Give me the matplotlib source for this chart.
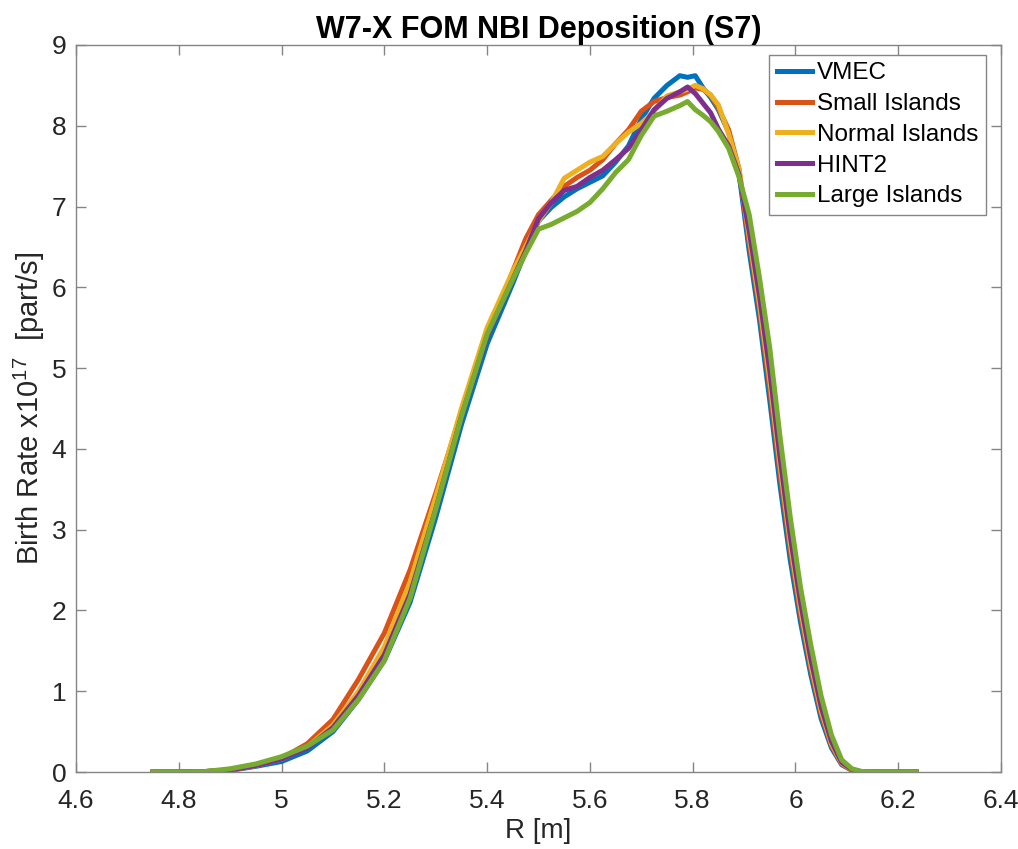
import matplotlib
matplotlib.use("Agg")
import matplotlib.pyplot as plt

plt.rcParams['font.family'] = ['Liberation Sans', 'DejaVu Sans']
plt.rcParams['mathtext.fontset'] = 'custom'
plt.rcParams['mathtext.rm'] = 'Liberation Sans'
plt.rcParams['mathtext.it'] = 'Liberation Sans:italic'

# ---- data ----
R = [4.75, 4.80, 4.85, 4.90, 4.95, 5.00, 5.05, 5.10, 5.15, 5.20, 5.25, 5.30, 5.35, 5.40, 5.45,
     5.475, 5.50, 5.525, 5.55, 5.575, 5.60, 5.625, 5.65, 5.675, 5.70, 5.725, 5.75, 5.775, 5.79,
     5.805, 5.82, 5.835, 5.85, 5.87, 5.89, 5.91, 5.93, 5.95, 5.97, 5.99, 6.01, 6.03, 6.05, 6.07,
     6.09, 6.11, 6.13, 6.16, 6.20, 6.235]

vmec = [0, 0, 0.005, 0.02, 0.07, 0.13, 0.26, 0.50, 0.90, 1.38, 2.10, 3.15, 4.30, 5.30, 6.05,
        6.45, 6.82, 6.99, 7.12, 7.22, 7.30, 7.38, 7.55, 7.75, 8.08, 8.34, 8.50, 8.62, 8.60,
        8.62, 8.47, 8.35, 8.20, 7.92, 7.42, 6.45, 5.60, 4.60, 3.55, 2.62, 1.85, 1.20, 0.66, 0.30,
        0.09, 0.02, 0, 0, 0, 0]

small = [0, 0, 0.005, 0.025, 0.08, 0.17, 0.35, 0.65, 1.15, 1.72, 2.50, 3.45, 4.45, 5.40, 6.20,
         6.60, 6.90, 7.08, 7.25, 7.36, 7.45, 7.58, 7.78, 7.95, 8.18, 8.30, 8.35, 8.38, 8.42,
         8.47, 8.45, 8.38, 8.22, 7.95, 7.47, 6.56, 5.73, 4.75, 3.70, 2.75, 1.95, 1.28, 0.72, 0.33,
         0.10, 0.02, 0, 0, 0, 0]

normal = [0, 0, 0.005, 0.025, 0.08, 0.16, 0.31, 0.58, 1.00, 1.55, 2.35, 3.40, 4.50, 5.50, 6.20,
          6.50, 6.82, 7.05, 7.35, 7.45, 7.55, 7.62, 7.78, 7.92, 8.03, 8.18, 8.37, 8.42, 8.45,
          8.50, 8.46, 8.38, 8.26, 7.90, 7.47, 6.63, 5.80, 4.86, 3.80, 2.83, 2.02, 1.33, 0.76, 0.35,
          0.11, 0.025, 0, 0, 0, 0]

hint2 = [0, 0, 0.005, 0.025, 0.08, 0.16, 0.30, 0.55, 0.95, 1.45, 2.20, 3.25, 4.40, 5.40, 6.10,
         6.45, 6.85, 7.05, 7.20, 7.25, 7.36, 7.45, 7.58, 7.72, 7.95, 8.20, 8.34, 8.42, 8.48,
         8.40, 8.28, 8.16, 7.96, 7.75, 7.40, 6.70, 5.90, 4.97, 3.90, 2.92, 2.10, 1.40, 0.81, 0.38,
         0.12, 0.03, 0, 0, 0, 0]

large = [0, 0, 0.005, 0.04, 0.10, 0.19, 0.32, 0.52, 0.90, 1.38, 2.15, 3.25, 4.40, 5.42, 6.10,
         6.42, 6.72, 6.78, 6.86, 6.94, 7.05, 7.22, 7.42, 7.58, 7.88, 8.12, 8.18, 8.25, 8.30,
         8.20, 8.13, 8.05, 7.93, 7.72, 7.37, 6.90, 6.12, 5.25, 4.15, 3.15, 2.28, 1.57, 0.94, 0.46,
         0.15, 0.04, 0.005, 0, 0, 0]

series = [("VMEC", vmec, "#0072BD"),
          ("Small Islands", small, "#D95319"),
          ("Normal Islands", normal, "#EDB120"),
          ("HINT2", hint2, "#7E2F8E"),
          ("Large Islands", large, "#77AC30")]

xticks = [4.6, 4.8, 5.0, 5.2, 5.4, 5.6, 5.8, 6.0, 6.2, 6.4]
xticklabels = ["4.6", "4.8", "5", "5.2", "5.4", "5.6", "5.8", "6", "6.2", "6.4"]
yticks = list(range(0, 10))

# ---- figure ----
W, H = 1018, 849
fig = plt.figure(figsize=(W / 100, H / 100), dpi=100)
ax = fig.add_axes([76 / W, 1 - 772 / H, (1001 - 76) / W, (772 - 45) / H])

for name, y, c in series:
    ax.plot(R, y, color=c, lw=3.6, label=name, solid_joinstyle='round')

ax.set_xlim(4.6, 6.4)
ax.set_ylim(0, 9)
ax.set_xticks(xticks)
ax.set_xticklabels(xticklabels)
ax.set_yticks(yticks)

axis_gray = '#858585'
for s in ax.spines.values():
    s.set_color(axis_gray)
    s.set_linewidth(1.0)
ax.tick_params(direction='in', length=7, width=1.0, color=axis_gray,
               top=True, right=True, labelsize=19, labelcolor='#262626')
ax.tick_params(axis='x', pad=12)
ax.tick_params(axis='y', pad=7)

ax.set_title("W7-X FOM NBI Deposition (S7)", fontsize=22, fontweight='bold', pad=5)
ax.set_xlabel("R [m]", fontsize=20, color='#262626', labelpad=4)
ax.set_ylabel(r"Birth Rate x10$^{17}$  [part/s]", fontsize=21, color='#262626', labelpad=3)

leg = ax.legend(loc='upper right', bbox_to_anchor=(986 / W, 1 - 55 / H),
                bbox_transform=fig.transFigure, borderaxespad=0.0,
                fontsize=17.5, frameon=True, fancybox=False,
                handlelength=1.45, handletextpad=0.22, borderpad=0.3, labelspacing=0.36)
leg.get_frame().set_edgecolor(axis_gray)
leg.get_frame().set_linewidth(1.0)
leg.get_frame().set_alpha(1)

fig.savefig("out.png", dpi=100)
